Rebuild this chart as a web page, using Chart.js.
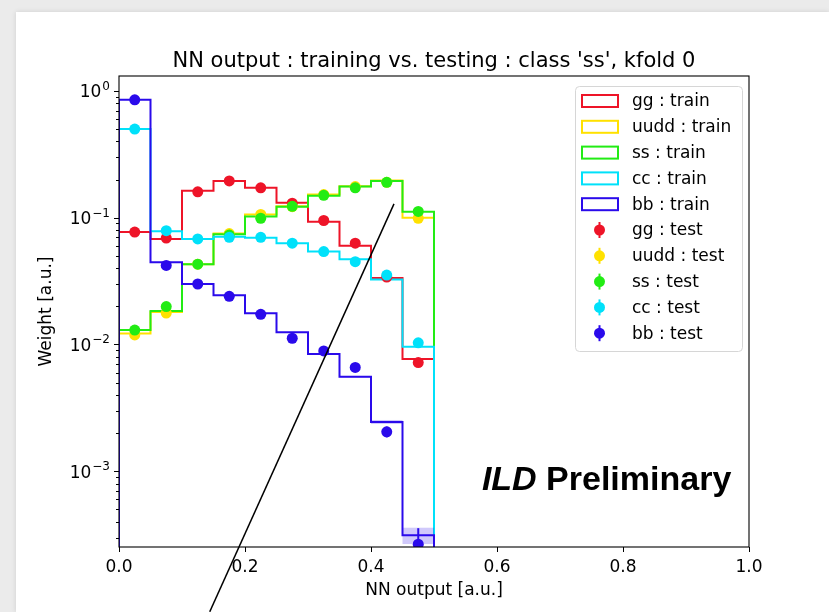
<!DOCTYPE html>
<html>
<head>
<meta charset="utf-8">
<title>NN output : training vs. testing</title>
<script src="https://cdn.jsdelivr.net/npm/chart.js@4.4.1/dist/chart.umd.min.js"></script>
<style>
  body { margin: 0; background: #fff; }
  #wrap { position: relative; width: 829px; height: 612px; overflow: hidden; background: #ebebeb; }
  #panel { position: absolute; left: 16px; top: 12px; right: 0; bottom: 0; background: #fff;
           box-shadow: 0 0 5px rgba(0,0,0,0.12); }
  #c { position: absolute; left: 0; top: 0; }
</style>
</head>
<body>
<div id="wrap">
  <div id="panel"></div>
  <canvas id="c" width="829" height="612"></canvas>
</div>
<script>
// binning of the NN output
const binEdges = [0.0, 0.05, 0.1, 0.15, 0.2, 0.25, 0.3, 0.35, 0.4, 0.45, 0.5];

const classNames  = ['gg', 'uudd', 'ss', 'cc', 'bb'];
const classColors = ['#ee1428', '#ffe100', '#22ec14', '#00e1fa', '#2a0aeb'];

// training histograms (step lines)
const trainGG   = [0.077, 0.068, 0.163, 0.195, 0.172, 0.131, 0.093, 0.060, 0.0335, 0.0077];
const trainUUDD = [0.0122, 0.0180, 0.043, 0.075, 0.106, 0.123, 0.152, 0.177, 0.196, 0.100];
const trainSS   = [0.0130, 0.0184, 0.043, 0.074, 0.102, 0.122, 0.149, 0.176, 0.195, 0.1116];
const trainCC   = [0.50, 0.078, 0.068, 0.0707, 0.0695, 0.0628, 0.054, 0.047, 0.0326, 0.0096];
const trainBB   = [0.85, 0.0445, 0.0300, 0.0245, 0.0176, 0.0125, 0.0084, 0.00556, 0.00245, 0.000313];
const trainBBErr = [0, 0, 0, 0, 0, 0, 0, 0.00008, 0.00009, 0.000046];

// testing histograms (points)
const testGG   = [0.077, 0.069, 0.160, 0.195, 0.172, 0.130, 0.095, 0.063, 0.034, 0.0072];
const testUUDD = [0.0119, 0.0177, 0.043, 0.075, 0.106, 0.122, 0.152, 0.176, 0.190, 0.099];
const testSS   = [0.0130, 0.0199, 0.043, 0.073, 0.099, 0.123, 0.150, 0.172, 0.190, 0.112];
const testCC   = [0.50, 0.079, 0.068, 0.070, 0.070, 0.063, 0.054, 0.045, 0.0353, 0.0103];
const testBB   = [0.85, 0.042, 0.030, 0.024, 0.0173, 0.0112, 0.0089, 0.0066, 0.00205, 0.000266];
const testBBErr = [0, 0, 0, 0, 0, 0, 0, 0.0002, 0.0002, 0.00009];

// axes
const titleText = "NN output : training vs. testing : class 'ss', kfold 0";
const xTickValues = [0.0, 0.2, 0.4, 0.6, 0.8, 1.0];
const xTickLabels = ['0.0', '0.2', '0.4', '0.6', '0.8', '1.0'];
const yTickValues = [1e-3, 1e-2, 1e-1, 1];
const yTickExponents = ['\u22123', '\u22122', '\u22121', '0'];
const yMin = 2.53e-4, yMax = 1.31;

// hand drawn line on top of the figure (data coordinates)
const strokeX = [0.144, 0.4365];
const strokeY = [7.8e-5, 0.1285];

const trainSets = [trainGG, trainUUDD, trainSS, trainCC, trainBB];
const trainErrs = [null, null, null, null, trainBBErr];
const testSets  = [testGG, testUUDD, testSS, testCC, testBB];
const testErrs  = [null, null, null, null, testBBErr];

const FONT = '"DejaVu Sans", sans-serif';

function stepPoints(vals) {
  const floor = 1e-7;
  const pts = [{x: binEdges[0], y: floor}];
  vals.forEach((v, i) => {
    pts.push({x: binEdges[i], y: v});
    pts.push({x: binEdges[i + 1], y: v});
  });
  pts.push({x: binEdges[vals.length], y: floor});
  return pts;
}

function centerPoints(vals) {
  return vals.map((v, i) => ({x: (binEdges[i] + binEdges[i + 1]) / 2, y: v}));
}

const datasets = [];
let k = 0;
classNames.forEach((name, i) => {
  datasets.push({
    label: name + ' : train',
    data: stepPoints(trainSets[i]),
    showLine: true,
    borderColor: classColors[i],
    borderWidth: 2,
    pointRadius: 0,
    fill: false,
    tension: 0,
    values: trainSets[i],
    errors: trainErrs[i],
    kind: 'train',
    order: 100 - k++
  });
});
classNames.forEach((name, i) => {
  datasets.push({
    label: name + ' : test',
    data: centerPoints(testSets[i]),
    showLine: false,
    pointRadius: 5.5,
    pointBackgroundColor: classColors[i],
    pointBorderWidth: 0,
    borderColor: classColors[i],
    errors: testErrs[i],
    kind: 'test',
    clip: 0,
    order: 100 - k++
  });
});

const figurePlugin = {
  id: 'figure',
  beforeDatasetDraw(chart, args) {
    const ds = chart.data.datasets[args.index];
    if (ds.kind !== 'train' || !ds.errors) return;
    const {ctx, chartArea: ca} = chart;
    const xs = chart.scales.x, ys = chart.scales.y;
    ctx.save();
    ctx.beginPath();
    ctx.rect(ca.left, ca.top, ca.width, ca.height);
    ctx.clip();
    ctx.fillStyle = 'rgba(42,10,235,0.22)';
    ds.values.forEach((v, i) => {
      const e = ds.errors[i];
      if (!e) return;
      const x0 = xs.getPixelForValue(binEdges[i]), x1 = xs.getPixelForValue(binEdges[i + 1]);
      const y0 = ys.getPixelForValue(v + e), y1 = ys.getPixelForValue(Math.max(v - e, 1e-7));
      ctx.fillRect(x0, y0, x1 - x0, y1 - y0);
    });
    ctx.restore();
  },
  afterDatasetDraw(chart, args) {
    const ds = chart.data.datasets[args.index];
    if (ds.kind !== 'test' || !ds.errors) return;
    const {ctx, chartArea: ca} = chart;
    const ys = chart.scales.y;
    ctx.save();
    ctx.beginPath();
    ctx.rect(ca.left, ca.top, ca.width, ca.height);
    ctx.clip();
    ctx.strokeStyle = ds.borderColor;
    ctx.lineWidth = 2;
    args.meta.data.forEach((pt, i) => {
      const e = ds.errors[i];
      if (!e) return;
      const v = ds.data[i].y;
      ctx.beginPath();
      ctx.moveTo(pt.x, ys.getPixelForValue(v + e));
      ctx.lineTo(pt.x, ys.getPixelForValue(Math.max(v - e, 1e-7)));
      ctx.stroke();
    });
    ctx.restore();
  },
  afterDraw(chart) {
    const {ctx, chartArea: ca} = chart;
    const xs = chart.scales.x, ys = chart.scales.y;
    ctx.save();

    // title, centred over the axes
    ctx.fillStyle = '#000';
    ctx.font = '21px ' + FONT;
    ctx.textAlign = 'center';
    ctx.textBaseline = 'alphabetic';
    ctx.fillText(titleText, (ca.left + ca.right) / 2, ca.top - 9);

    // frame
    ctx.strokeStyle = '#000';
    ctx.lineWidth = 1.1;
    ctx.strokeRect(ca.left, ca.top, ca.width, ca.height);

    // tick marks
    ctx.lineWidth = 1;
    ys.ticks.forEach(t => {
      const py = Math.round(ys.getPixelForValue(t.value)) + 0.5;
      const major = yTickValues.some(v => Math.abs(v - t.value) / v < 1e-6);
      ctx.beginPath();
      ctx.moveTo(ca.left - (major ? 5 : 3), py);
      ctx.lineTo(ca.left, py);
      ctx.stroke();
    });
    xTickValues.forEach(v => {
      const px = Math.round(xs.getPixelForValue(v)) + 0.5;
      ctx.beginPath();
      ctx.moveTo(px, ca.bottom);
      ctx.lineTo(px, ca.bottom + 5);
      ctx.stroke();
    });

    // y tick labels as 10 with raised exponent
    ctx.textAlign = 'right';
    yTickValues.forEach((v, i) => {
      const py = ys.getPixelForValue(v);
      const xr = ca.left - 9;
      ctx.font = '12px ' + FONT;
      const ew = ctx.measureText(yTickExponents[i]).width;
      ctx.fillText(yTickExponents[i], xr, py - 1);
      ctx.font = '17px ' + FONT;
      ctx.fillText('10', xr - ew - 1, py + 6.5);
    });

    // legend
    const lx = ca.right - 174, ly = ca.top + 10, lw = 167, lh = 265;
    ctx.beginPath();
    ctx.roundRect(lx + 0.5, ly + 0.5, lw, lh, 4);
    ctx.fillStyle = 'rgba(255,255,255,0.8)';
    ctx.fill();
    ctx.strokeStyle = '#d6d6d6';
    ctx.lineWidth = 1;
    ctx.stroke();
    ctx.font = '17px ' + FONT;
    ctx.textBaseline = 'middle';
    ctx.textAlign = 'left';
    const labels = classNames.map(n => n + ' : train').concat(classNames.map(n => n + ' : test'));
    labels.forEach((lab, i) => {
      const cy = ly + 15 + i * 25.8;
      const col = classColors[i % 5];
      if (i < 5) {
        ctx.strokeStyle = col;
        ctx.lineWidth = 2;
        ctx.strokeRect(lx + 7, cy - 6, 36, 12);
      } else {
        ctx.strokeStyle = col;
        ctx.fillStyle = col;
        ctx.lineWidth = 2;
        ctx.beginPath();
        ctx.moveTo(lx + 24.5, cy - 8);
        ctx.lineTo(lx + 24.5, cy + 8);
        ctx.stroke();
        ctx.beginPath();
        ctx.arc(lx + 24.5, cy, 5.5, 0, Math.PI * 2);
        ctx.fill();
      }
      ctx.fillStyle = '#000';
      ctx.fillText(lab, lx + 57, cy + 1);
    });

    // ILD Preliminary
    const tx = ca.left + 0.576 * ca.width, ty = ca.top + 0.879 * ca.height;
    ctx.fillStyle = '#000';
    ctx.textBaseline = 'alphabetic';
    ctx.font = 'italic bold 34px "Liberation Sans", Arial, sans-serif';
    ctx.fillText('ILD', tx, ty);
    const w = ctx.measureText('ILD ').width;
    ctx.font = 'bold 34px "Liberation Sans", Arial, sans-serif';
    ctx.fillText('Preliminary', tx + w, ty);

    // black stroke across the figure
    ctx.strokeStyle = '#000';
    ctx.lineWidth = 1.5;
    ctx.beginPath();
    ctx.moveTo(xs.getPixelForValue(strokeX[0]), ys.getPixelForValue(strokeY[0]));
    ctx.lineTo(xs.getPixelForValue(strokeX[1]), ys.getPixelForValue(strokeY[1]));
    ctx.stroke();

    ctx.restore();
  }
};

Chart.defaults.font.family = FONT;
Chart.defaults.color = '#000';

new Chart(document.getElementById('c'), {
  type: 'scatter',
  data: { datasets: datasets },
  options: {
    responsive: false,
    animation: false,
    events: [],
    layout: { padding: { left: 0, top: 76, right: 80, bottom: 0 } },
    plugins: {
      legend: { display: false },
      tooltip: { enabled: false },
      title: { display: false }
    },
    scales: {
      x: {
        type: 'linear',
        min: 0, max: 1,
        grid: { display: false, drawTicks: false },
        border: { display: false },
        afterBuildTicks: s => { s.ticks = xTickValues.map(v => ({value: v})); },
        afterFit: s => { s.height = 65; },
        ticks: {
          autoSkip: false,
          maxRotation: 0,
          padding: 10,
          font: { size: 17 },
          callback: (v, i) => xTickLabels[i]
        },
        title: {
          display: true,
          text: 'NN output [a.u.]',
          font: { size: 17 },
          padding: { top: 0, bottom: 10.8 }
        }
      },
      y: {
        type: 'logarithmic',
        min: yMin, max: yMax,
        bounds: 'data',
        grid: { display: false, drawTicks: false },
        border: { display: false },
        afterBuildTicks: s => {
          const t = [];
          for (let e = -4; e <= 0; e++) {
            for (let m = 1; m <= 9; m++) {
              const v = m * Math.pow(10, e);
              if (v >= yMin && v <= yMax) t.push({value: v, major: m === 1});
            }
          }
          s.ticks = t;
        },
        afterFit: s => { s.width = 119; },
        ticks: {
          autoSkip: false,
          padding: 9,
          font: { size: 17 },
          callback: () => ''
        },
        title: {
          display: true,
          text: 'Weight [a.u.]',
          font: { size: 17 },
          padding: { top: 36.8, bottom: 0 }
        }
      }
    }
  },
  plugins: [figurePlugin]
});
</script>
</body>
</html>
